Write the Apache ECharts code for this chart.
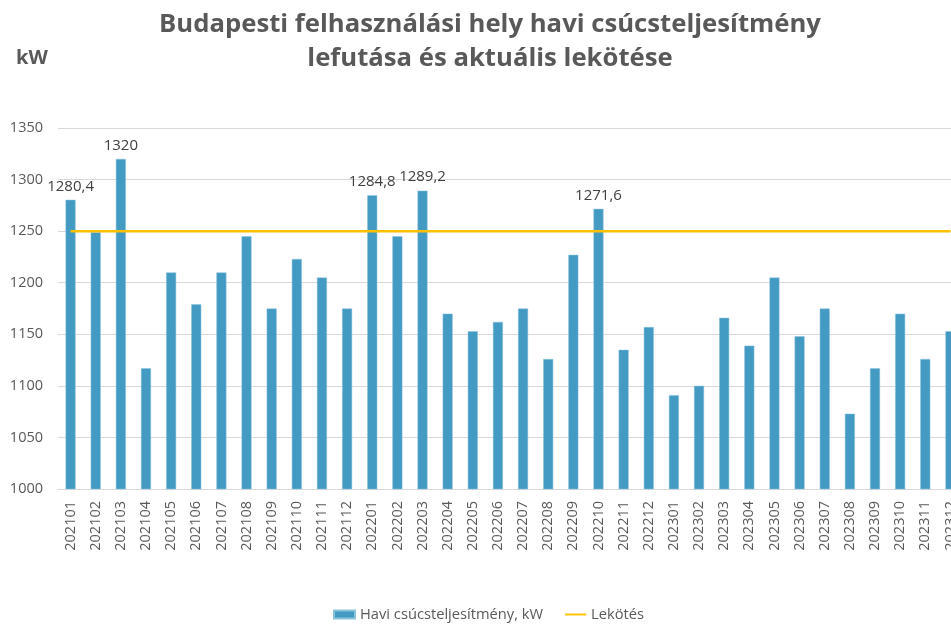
<!DOCTYPE html>
<html>
<head>
<meta charset="utf-8">
<script src="https://cdn.jsdelivr.net/npm/echarts@6/dist/echarts.min.js"></script>
<style>
  html, body { margin: 0; padding: 0; background: #fff; }
  #main { width: 951px; height: 625px; }
</style>
</head>
<body>
<div id="main"></div>
<script>
// honapok (ev + ho)
var months = [
  '202101', '202102', '202103', '202104', '202105', '202106',
  '202107', '202108', '202109', '202110', '202111', '202112',
  '202201', '202202', '202203', '202204', '202205', '202206',
  '202207', '202208', '202209', '202210', '202211', '202212',
  '202301', '202302', '202303', '202304', '202305', '202306',
  '202307', '202308', '202309', '202310', '202311', '202312'
];

// havi csucsteljesitmeny, kW
var peakKw = [
  1280.4, 1249, 1320, 1117, 1210, 1179,
  1210, 1245, 1175, 1223, 1205, 1175,
  1284.8, 1245, 1289.2, 1170, 1153, 1162,
  1175, 1126, 1227, 1271.6, 1135, 1157,
  1091, 1100, 1166, 1139, 1205, 1148,
  1175, 1073, 1117, 1170, 1126, 1153
];

// lekotes (konstans)
var contractKw = 1250;
var contractLine = months.map(function () { return contractKw; });

var yTicks = { min: 1000, max: 1350, step: 50 };

var chart = echarts.init(document.getElementById('main'));

var option = {
  animation: false,
  textStyle: { fontFamily: 'Open Sans' },
  title: [
    {
      text: 'Budapesti felhasználási hely havi csúcsteljesítmény\nlefutása és aktuális lekötése',
      left: 485,
      top: 3,
      textAlign: 'center',
      textStyle: {
        fontFamily: 'Open Sans',
        fontWeight: 'bold',
        fontSize: 25.7,
        lineHeight: 34,
        color: '#595959'
      }
    },
    {
      text: 'kW',
      left: 11,
      top: 43,
      textStyle: {
        fontFamily: 'Open Sans',
        fontWeight: 'bold',
        fontSize: 20,
        color: '#595959'
      }
    }
  ],
  grid: {
    left: 58,
    top: 128,
    width: 905,
    bottom: 136,
    outerBoundsMode: 'none'
  },
  legend: {
    top: 602,
    left: 328,
    itemGap: 22,
    itemWidth: 21,
    itemHeight: 8,
    textStyle: { color: '#595959', fontSize: 14.7 },
    data: [
      { name: 'Havi csúcsteljesítmény, kW', icon: 'rect' },
      { name: 'Lekötés', icon: 'path://M0,0 L22,0 L22,2 L0,2 Z' }
    ]
  },
  xAxis: {
    type: 'category',
    data: months,
    axisLine: { lineStyle: { color: '#d9d9d9' } },
    axisTick: { show: false },
    axisLabel: {
      rotate: 90,
      interval: 0,
      color: '#595959',
      fontSize: 14.5,
      margin: 12
    }
  },
  yAxis: {
    type: 'value',
    min: yTicks.min,
    max: yTicks.max,
    interval: yTicks.step,
    axisLine: { show: false },
    axisTick: { show: false },
    axisLabel: {
      color: '#595959',
      fontSize: 14.5,
      margin: 15,
      formatter: function (v) { return String(v); }
    },
    splitLine: { lineStyle: { color: '#d9d9d9' } }
  },
  series: [
    {
      name: 'Havi csúcsteljesítmény, kW',
      type: 'bar',
      data: peakKw,
      barWidth: 10,
      itemStyle: { color: '#439AC3', borderColor: '#8cc3dc', borderWidth: 0.5 },
      label: {
        show: true,
        position: 'top',
        distance: 6,
        color: '#404040',
        fontSize: 15,
        formatter: function (p) {
          if (p.value <= contractKw) return '';
          return String(p.value).replace('.', ',');
        }
      }
    },
    {
      name: 'Lekötés',
      type: 'line',
      data: contractLine,
      symbol: 'none',
      z: 3,
      lineStyle: { color: '#FFC000', width: 2.5 },
      itemStyle: { color: '#FFC000' }
    }
  ]
};

chart.setOption(option);
</script>
</body>
</html>
